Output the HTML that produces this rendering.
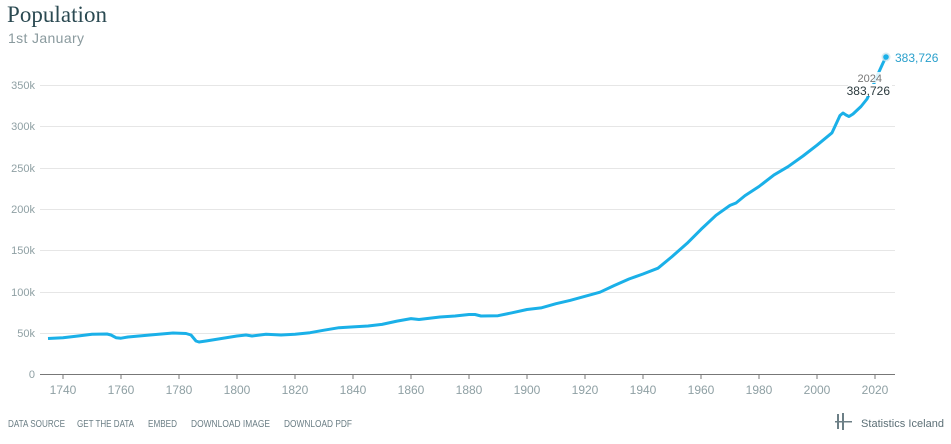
<!DOCTYPE html>
<html><head><meta charset="utf-8"><style>
body{margin:0;background:#fff;width:951px;height:439px;overflow:hidden;font-family:"Liberation Sans",sans-serif}
</style></head><body>
<svg width="951" height="439" xmlns="http://www.w3.org/2000/svg" font-family="Liberation Sans, sans-serif">
<text x="7" y="22" font-family="Liberation Serif, serif" font-size="23" fill="#2b4a52" textLength="100">Population</text>
<text x="8" y="43" font-size="14" fill="#8a9a9e" textLength="76">1st January</text>
<g stroke="#e6e6e6" stroke-width="1">
<line x1="40" x2="895" y1="85.5" y2="85.5"/><line x1="40" x2="895" y1="126.5" y2="126.5"/>
<line x1="40" x2="895" y1="168.5" y2="168.5"/><line x1="40" x2="895" y1="209.5" y2="209.5"/>
<line x1="40" x2="895" y1="250.5" y2="250.5"/><line x1="40" x2="895" y1="292.5" y2="292.5"/>
<line x1="40" x2="895" y1="333.5" y2="333.5"/>
</g>
<g font-size="11" fill="#8fa0a4" text-anchor="end">
<text x="35" y="89">350k</text><text x="35" y="130">300k</text><text x="35" y="172">250k</text>
<text x="35" y="213">200k</text><text x="35" y="254">150k</text><text x="35" y="296">100k</text>
<text x="35" y="337">50k</text><text x="35" y="378">0</text>
</g>
<line x1="40" x2="895" y1="374.5" y2="374.5" stroke="#777" stroke-width="1"/>
<g stroke="#777"><line x1="63" x2="63" y1="374" y2="379"/><line x1="121" x2="121" y1="374" y2="379"/><line x1="179" x2="179" y1="374" y2="379"/><line x1="237" x2="237" y1="374" y2="379"/><line x1="295" x2="295" y1="374" y2="379"/><line x1="353" x2="353" y1="374" y2="379"/><line x1="411" x2="411" y1="374" y2="379"/><line x1="469" x2="469" y1="374" y2="379"/><line x1="527" x2="527" y1="374" y2="379"/><line x1="585" x2="585" y1="374" y2="379"/><line x1="643" x2="643" y1="374" y2="379"/><line x1="701" x2="701" y1="374" y2="379"/><line x1="759" x2="759" y1="374" y2="379"/><line x1="817" x2="817" y1="374" y2="379"/><line x1="875" x2="875" y1="374" y2="379"/></g>
<g font-size="12" fill="#8fa0a4" text-anchor="middle">
<text x="63" y="394">1740</text><text x="121" y="394">1760</text><text x="179" y="394">1780</text><text x="237" y="394">1800</text><text x="295" y="394">1820</text><text x="353" y="394">1840</text><text x="411" y="394">1860</text><text x="469" y="394">1880</text><text x="527" y="394">1900</text><text x="585" y="394">1920</text><text x="643" y="394">1940</text><text x="701" y="394">1960</text><text x="759" y="394">1980</text><text x="817" y="394">2000</text><text x="875" y="394">2020</text>
</g>
<polyline fill="none" stroke="#1ab0e8" stroke-width="3" stroke-linejoin="round" points="48,338.5 63,337.7 78,336 92,334.3 107,334 111,335 116,337.7 121,338.2 128,337 150,335 173,333 186,333.5 191,335 196,341 199,342 206,341 237,336 246,335 252,336 266,334.3 281,335 295,334.3 310,332.7 324,330.2 339,327.7 353,326.9 368,326 382,324.4 397,321.1 411,318.6 419,319.5 440,317 455,316 469,314.5 475,314.5 481,316 498,315.7 512,312.8 527,309.5 541,307.9 556,303.7 570,300.4 585,296.3 600,292.2 614,285.6 629,279 643,274 658,268.2 672,256.6 687,243.4 701,229.4 716,215.3 730,205.4 736,203 745,195.6 759,186.5 774,174.9 788,166.7 803,156 817,145.2 832,132.8 840,115.5 843,113 846,115 849,116.5 853,114 861,106.5 867,99 872,88 878,74 883,63 886,57"/>
<rect x="846" y="72" width="38" height="11" fill="#fff" opacity="0.85"/>
<rect x="848" y="84" width="44" height="12" fill="#fff"/>
<text x="882" y="82" font-size="11" fill="#777" text-anchor="end">2024</text>
<text x="890" y="95" font-size="12" fill="#2b3a3e" text-anchor="end">383,726</text>
<circle cx="886" cy="57" r="4.5" fill="#c9e4ee" opacity="0.8"/>
<circle cx="886" cy="57" r="2.8" fill="#1ab0e8"/>
<text x="895" y="62" font-size="12" fill="#2aa0cc">383,726</text>
<g font-size="10" fill="#6c7f86">
<text x="8" y="427" textLength="57" lengthAdjust="spacingAndGlyphs">DATA SOURCE</text><text x="77" y="427" textLength="57" lengthAdjust="spacingAndGlyphs">GET THE DATA</text><text x="148" y="427" textLength="29" lengthAdjust="spacingAndGlyphs">EMBED</text><text x="191" y="427" textLength="79" lengthAdjust="spacingAndGlyphs">DOWNLOAD IMAGE</text><text x="284" y="427" textLength="68" lengthAdjust="spacingAndGlyphs">DOWNLOAD PDF</text>
</g>
<g fill="#6c7f86"><rect x="837" y="414" width="2" height="15"/><rect x="842" y="413" width="2" height="17"/><rect x="835" y="421" width="17" height="1.5"/></g>
<text x="861" y="427" font-size="11" fill="#5c6f76" textLength="83">Statistics Iceland</text>
</svg>
</body></html>
